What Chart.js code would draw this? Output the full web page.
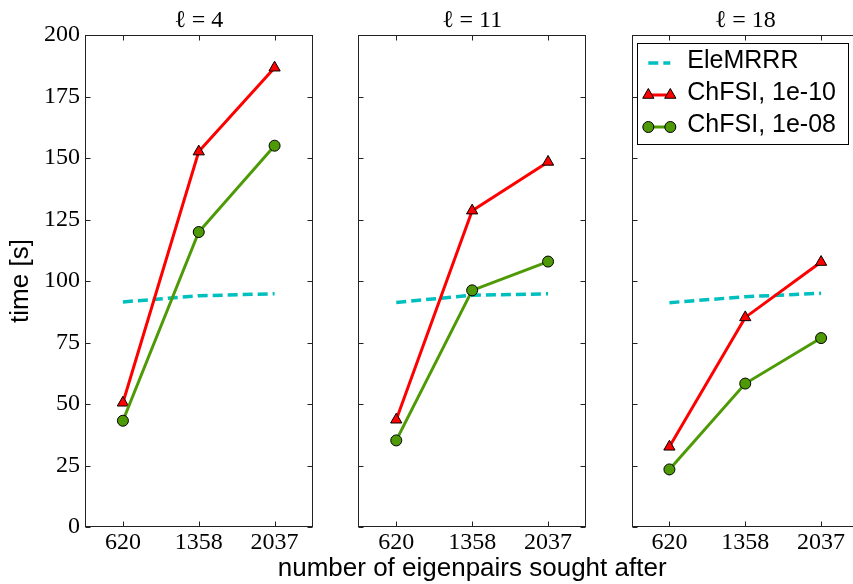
<!DOCTYPE html>
<html lang="en">

<head>
  <meta charset="UTF-8">
  <title>ChFSI vs EleMRRR</title>
  <script src="https://cdn.jsdelivr.net/npm/chart.js"></script>
  <style>
    html, body { margin: 0; padding: 0; width: 853px; height: 584px; overflow: hidden; background: #fff; }
    canvas { position: absolute; top: 0; }
  </style>
</head>

<body>
  <canvas id="panel1" width="320" height="584" style="left:0px"></canvas>
  <canvas id="panel2" width="480" height="584" style="left:240px"></canvas>
  <canvas id="panel3" width="300" height="584" style="left:600px"></canvas>

<script>
  // data, one row per panel (l = 4, 11, 18)
  const eigenpairs = ['620', '1358', '2037'];
  const panelTitles = ['ℓ = 4', 'ℓ = 11', 'ℓ = 18'];
  const seriesNames = ['EleMRRR', 'ChFSI, 1e-10', 'ChFSI, 1e-08'];
  const elemrrr = [[91.5, 94.0, 94.8], [91.3, 94.2, 94.8], [91.2, 93.6, 95.0]];
  const chfsi10 = [[50.5, 152.6, 186.7], [43.6, 128.6, 148.4], [32.6, 85.2, 107.7]];
  const chfsi08 = [[43.2, 119.9, 155.0], [35.2, 96.2, 107.9], [23.4, 58.3, 76.8]];
  const yMin = 0;
  const yMax = 200;
  const yStep = 25;
  const xLabel = 'number of eigenpairs sought after';
  const yLabel = 'time [s]';

  const serif = 'Liberation Serif';
  const sans = 'Liberation Sans';

  // box around the plot + inward ticks on all four sides
  const framePlugin = {
    id: 'frame',
    afterDraw(chart) {
      const { ctx, chartArea: a } = chart;
      const x = chart.scales.x, y = chart.scales.y;
      const L = Math.round(a.left) + 0.5, R = Math.round(a.right) - 0.5;
      const T = Math.round(a.top) + 0.5, B = Math.round(a.bottom) - 0.5;
      ctx.save();
      ctx.strokeStyle = '#222';
      ctx.lineWidth = 1;
      ctx.strokeRect(L, T, R - L, B - T);
      ctx.beginPath();
      y.ticks.forEach(t => {
        const py = Math.round(y.getPixelForValue(t.value)) + 0.5;
        ctx.moveTo(L, py); ctx.lineTo(L + 5, py);
        ctx.moveTo(R, py); ctx.lineTo(R - 5, py);
      });
      x.ticks.forEach((t, i) => {
        const px = Math.round(x.getPixelForTick(i)) + 0.5;
        ctx.moveTo(px, B); ctx.lineTo(px, B - 5);
        ctx.moveTo(px, T); ctx.lineTo(px, T + 5);
      });
      ctx.stroke();
      ctx.restore();
    }
  };

  // shared x label, centred under the middle panel (the axis title would be squeezed)
  const xLabelPlugin = {
    id: 'xlabel',
    afterDraw(chart) {
      const { ctx, chartArea: a } = chart;
      ctx.save();
      ctx.font = '26px "' + sans + '"';
      ctx.fillStyle = '#000';
      ctx.textAlign = 'center';
      ctx.textBaseline = 'alphabetic';
      ctx.fillText(xLabel, (a.left + a.right) / 2, chart.height - 8);
      ctx.restore();
    }
  };

  function marker(ctx, style, r, px, py) {
    ctx.beginPath();
    if (style === 'triangle') {
      for (let k = 0; k < 3; k++) {
        const ang = k * 2 * Math.PI / 3;
        const vx = px + Math.sin(ang) * r, vy = py - Math.cos(ang) * r;
        if (k === 0) ctx.moveTo(vx, vy); else ctx.lineTo(vx, vy);
      }
      ctx.closePath();
    } else {
      ctx.arc(px, py, r, 0, Math.PI * 2);
    }
    ctx.fill();
    ctx.stroke();
  }

  // matplotlib style legend, two markers per handle
  const legendPlugin = {
    id: 'boxLegend',
    afterDraw(chart) {
      const { ctx, chartArea: a } = chart;
      const sets = chart.data.datasets;
      ctx.save();
      ctx.font = '25px "' + sans + '"';
      const textW = Math.max(...sets.map(d => ctx.measureText(d.label).width));
      const rowH = 32;
      const w = 11 + 22 + 17 + textW + 12;
      const h = sets.length * rowH + 5;
      const right = a.right - 11, top = a.top + 8;
      const left = right - w;
      ctx.fillStyle = '#fff';
      ctx.fillRect(left, top, w, h);
      ctx.strokeStyle = '#000';
      ctx.lineWidth = 1;
      ctx.strokeRect(Math.round(left) + 0.5, Math.round(top) + 0.5, Math.round(w), Math.round(h));

      sets.forEach((d, i) => {
        const cy = top + 18 + i * rowH;
        const x1 = left + 11, x2 = x1 + 22;
        ctx.beginPath();
        ctx.setLineDash(d.borderDash || []);
        ctx.strokeStyle = d.borderColor;
        ctx.lineWidth = d.borderWidth;
        ctx.moveTo(x1, cy + 2);
        ctx.lineTo(x2, cy + 2);
        ctx.stroke();
        ctx.setLineDash([]);
        if (d.pointRadius > 0) {
          ctx.fillStyle = d.pointBackgroundColor;
          ctx.strokeStyle = d.pointBorderColor;
          ctx.lineWidth = d.pointBorderWidth;
          marker(ctx, d.pointStyle, d.pointRadius, x1, cy + 2);
          marker(ctx, d.pointStyle, d.pointRadius, x2, cy + 2);
        }
        ctx.fillStyle = '#000';
        ctx.textBaseline = 'middle';
        ctx.textAlign = 'left';
        ctx.fillText(d.label, x2 + 17, cy);
      });
      ctx.restore();
    }
  };

  function makePanel(id, p, padLeft, padRight) {
    const extra = [framePlugin];
    if (p === 1) extra.push(xLabelPlugin);
    if (p === 2) extra.push(legendPlugin);

    new Chart(document.getElementById(id), {
      type: 'line',
      data: {
        labels: eigenpairs,
        datasets: [
          {
            label: seriesNames[0],
            data: elemrrr[p],
            borderColor: '#00bfbf',
            borderWidth: 3.5,
            borderDash: [10, 5],
            pointRadius: 0,
            order: 2
          },
          {
            label: seriesNames[1],
            data: chfsi10[p],
            borderColor: '#ff0000',
            borderWidth: 3,
            pointStyle: 'triangle',
            pointRadius: 6.5,
            pointBackgroundColor: '#ff0000',
            pointBorderColor: '#000',
            pointBorderWidth: 1,
            order: 1
          },
          {
            label: seriesNames[2],
            data: chfsi08[p],
            borderColor: '#4e9a06',
            borderWidth: 3,
            pointStyle: 'circle',
            pointRadius: 5.5,
            pointBackgroundColor: '#4e9a06',
            pointBorderColor: '#000',
            pointBorderWidth: 1,
            order: 0
          }
        ]
      },
      options: {
        responsive: false,
        animation: false,
        layout: { padding: { left: padLeft, right: padRight, top: 0, bottom: 0 } },
        plugins: {
          legend: { display: false },
          tooltip: { enabled: false },
          title: {
            display: true,
            text: panelTitles[p],
            fullSize: false,
            color: '#000',
            font: { family: serif, size: 24, weight: 'normal', lineHeight: 1 },
            padding: { top: 9, bottom: 2 }
          }
        },
        scales: {
          x: {
            offset: true,
            grid: { display: false, drawTicks: false },
            border: { display: false },
            ticks: { color: '#000', font: { family: serif, size: 24 }, padding: 1, maxRotation: 0, autoSkip: false },
            afterFit: s => { s.height = 57; }
          },
          y: {
            min: yMin,
            max: yMax,
            grid: { display: false, drawTicks: false },
            border: { display: false },
            ticks: { display: p === 0, stepSize: yStep, color: '#000', font: { family: serif, size: 24 }, padding: 5 },
            title: {
              display: p === 0,
              text: yLabel,
              color: '#000',
              font: { family: sans, size: 26 },
              padding: { top: 5, bottom: 0 }
            },
            afterFit: s => { s.width = p === 0 ? 85 : 0; }
          }
        }
      },
      plugins: extra
    });
  }

  makePanel('panel1', 0, 0, 7.5);
  makePanel('panel2', 1, 118.3, 134);
  makePanel('panel3', 2, 31.5, 41);
</script>
</body>

</html>
